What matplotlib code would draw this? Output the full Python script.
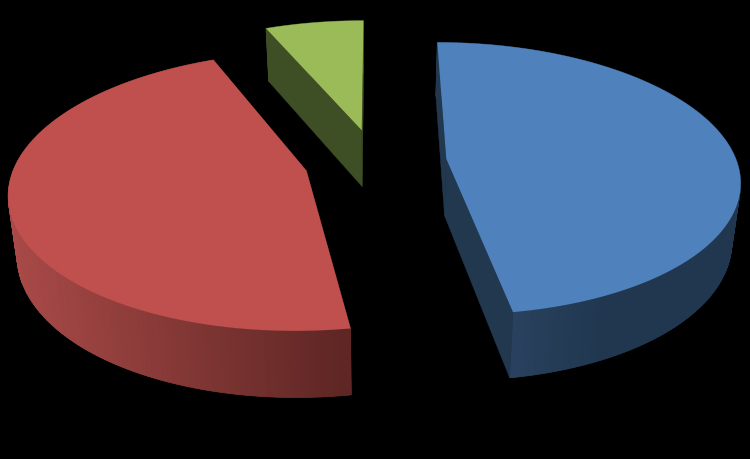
import numpy as np
import matplotlib
matplotlib.use("Agg")
import matplotlib.pyplot as plt
from matplotlib.patches import Polygon
from matplotlib.collections import PolyCollection

labels = ["Blue", "Red", "Green"]
values = [47.4, 46.2, 6.4]
top_colors = ["#4F81BD", "#C0504D", "#9BBB59"]
wall_colors = ["#22384F", "#6A2C2A", "#3F4F25"]
rim_start = [(0.165, 0.26, 0.375), (0.37, 0.15, 0.14), (0.25, 0.31, 0.15)]
rim_end = [(0.125, 0.215, 0.31), (0.66, 0.29, 0.28), (0.25, 0.31, 0.15)]
rim_range = [(510, 610), (345, 15), (260, 365)]

CX, CY, A, B, K, EXPLODE = 375.5, 162.5, 290.5, 134, 0.145, 0.245
DEPTH0, DEPTH_FRONT, DEPTH_BACK, SHRINK = 57, 9, 3.5, 0.976


def top(X, Y):
    d = 1 + K * Y
    return CX + A * X / d, CY - B * Y / d


def bot(X, Y):
    d = 1 + K * Y
    depth = DEPTH0 - np.where(Y < 0, DEPTH_FRONT, DEPTH_BACK) * Y
    return CX + A * SHRINK * X / d, CY - B * Y / d + depth


fig = plt.figure(figsize=(7.5, 4.6), dpi=100, facecolor="black")
ax = fig.add_axes([0, 0, 1, 1])
ax.set_xlim(0, 750)
ax.set_ylim(460, 0)
ax.axis("off")

fracs = np.array(values, float) / sum(values)
edges = np.concatenate([[0], np.cumsum(fracs)]) * 2 * np.pi

for i in [2, 1, 0]:
    t0, t1 = edges[i], edges[i + 1]
    mid = (t0 + t1) / 2
    ex, ey = EXPLODE * np.sin(mid), EXPLODE * np.cos(mid)
    t = np.linspace(t0, t1, 160)
    X, Y = ex + np.sin(t), ey + np.cos(t)
    tx, ty = top(X, Y)
    bx, by = bot(X, Y)
    ax0, ay0 = top(np.array(ex), np.array(ey))
    bx0, by0 = bot(np.array(ex), np.array(ey))
    # the rim of a slice at the back lies behind its walls, at the front over them
    z_rim = 2 if ey > 0 else 3.5
    c0, c1 = np.array(rim_start[i]), np.array(rim_end[i])
    x0, x1 = rim_range[i]
    ax.add_patch(Polygon(list(zip(tx, ty)) + list(zip(bx[::-1], by[::-1])), closed=True,
                         fc=tuple((c0 + c1) / 2), ec="none", zorder=z_rim))
    quads, cols = [], []
    for j in range(len(t) - 1):
        quads.append([(tx[j], ty[j]), (tx[j + 1], ty[j + 1]), (bx[j + 1], by[j + 1]), (bx[j], by[j])])
        f = np.clip((tx[j] - x0) / (x1 - x0), 0, 1)
        cols.append(tuple((1 - f) * c0 + f * c1))
    ax.add_collection(PolyCollection(quads, facecolors=cols, edgecolors=cols, linewidths=0.5,
                                     zorder=z_rim + 0.1))
    # cut walls
    for (xa, ya, xb, yb) in [(tx[0], ty[0], bx[0], by[0]), (tx[-1], ty[-1], bx[-1], by[-1])]:
        ax.add_patch(Polygon([(ax0, ay0), (xa, ya), (xb, yb), (bx0, by0)], closed=True,
                             fc=wall_colors[i], ec=wall_colors[i], lw=0.3, zorder=3))
    # top face
    pts = [(ax0, ay0)] + list(zip(tx, ty))
    ax.add_patch(Polygon(pts, closed=True, fc=top_colors[i], ec="none", zorder=4))

fig.savefig("out.png", dpi=100, facecolor="black")
